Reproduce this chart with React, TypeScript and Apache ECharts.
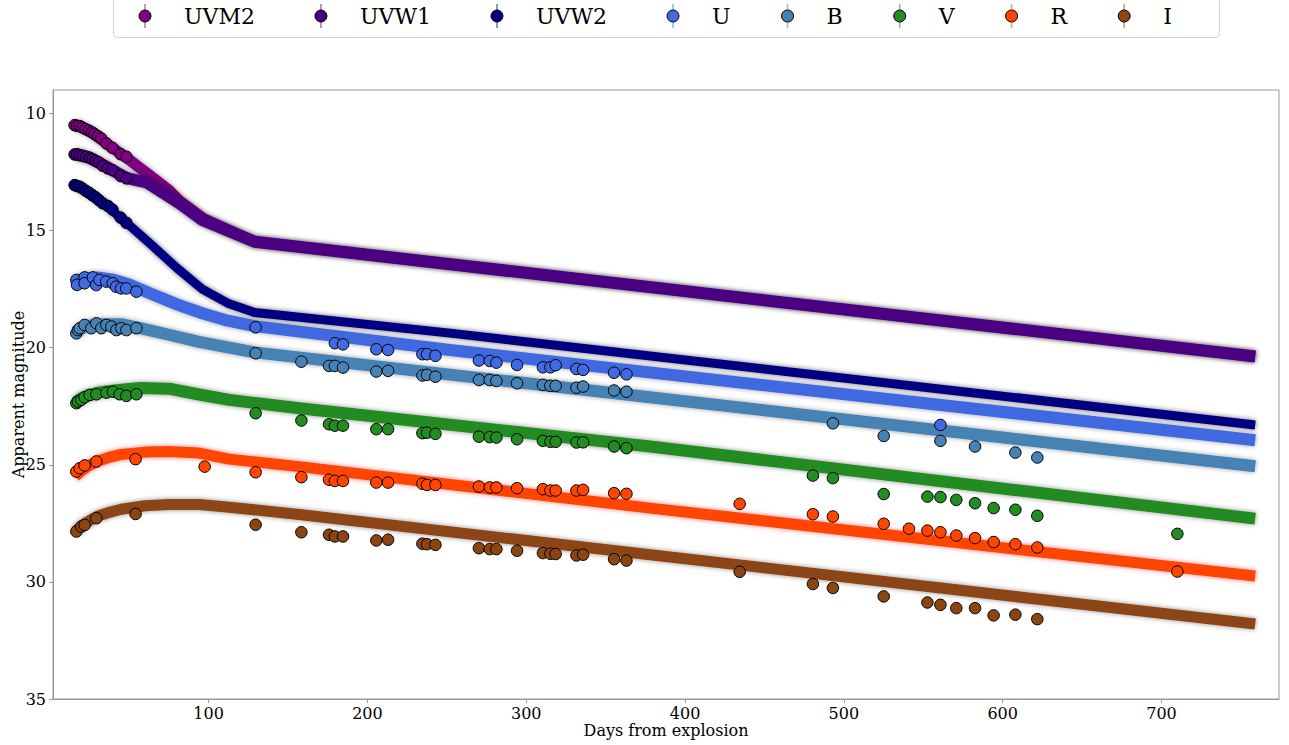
import React, { useEffect, useRef } from "react";
import * as echarts from "echarts";

// ---------- categories / ticks ----------
const bandNames = ["UVM2", "UVW1", "UVW2", "U", "B", "V", "R", "I"];
const bandColors = ["#800080", "#4b0082", "#000080", "#4169e1", "#4682b4", "#228b22", "#ff4500", "#8b4513"];
const uvBands = ["UVM2", "UVW1", "UVW2"];
const opticalBands = ["U", "B", "V", "R", "I"];
const xTicks = [100, 200, 300, 400, 500, 600, 700];
const yTicks = [10, 15, 20, 25, 30, 35];

// ---------- observed photometry (days from explosion, apparent magnitude) ----------
const uvm2Days = [15.6, 17.1, 18.8, 20.5, 22.5, 24.7, 26.6, 28.2, 30.3, 32.4, 35.6, 39.4, 44.6, 48.2];
const uvm2Mag = [10.5, 10.53, 10.54, 10.6, 10.67, 10.74, 10.81, 10.88, 10.97, 11.07, 11.28, 11.47, 11.74, 11.85];

const uvw1Days = [15.6, 17.1, 18.8, 20.9, 23.0, 25.1, 26.8, 28.8, 30.9, 33.4, 36.6, 39.4, 44.6, 48.2];
const uvw1Mag = [11.75, 11.75, 11.78, 11.81, 11.85, 11.89, 11.95, 12.02, 12.09, 12.24, 12.35, 12.42, 12.67, 12.77];

const uvw2Days = [15.6, 17.1, 18.8, 20.5, 22.5, 24.7, 26.8, 28.8, 30.9, 33.4, 36.6, 39.4, 44.6, 48.2];
const uvw2Mag = [13.06, 13.1, 13.13, 13.2, 13.3, 13.39, 13.49, 13.58, 13.7, 13.84, 13.95, 14.1, 14.45, 14.67];

const uDays = [16.7, 17.1, 21.9, 21.9, 27.1, 29.2, 31.2, 35.5, 39.6, 41.7, 44.9, 48.1, 54.5,
  129.6, 179.5, 184.6, 205.6, 213.0, 234.6, 237.5, 242.8, 270.2, 277.0, 281.2, 294.2, 310.5, 315.2, 318.5, 331.6, 335.8, 355.3, 363.1, 560.8];
const uMag = [17.11, 17.32, 17.0, 17.25, 17.0, 17.33, 17.11, 17.18, 17.25, 17.4, 17.47, 17.47, 17.61,
  19.13, 19.81, 19.86, 20.07, 20.1, 20.28, 20.28, 20.35, 20.55, 20.57, 20.64, 20.74, 20.84, 20.84, 20.75, 20.91, 20.95, 21.07, 21.14, 23.3];

const bDays = [16.7, 17.7, 18.8, 21.9, 26.1, 29.3, 32.4, 35.6, 38.7, 41.9, 45.0, 48.2, 54.5,
  129.6, 158.4, 175.8, 179.5, 184.6, 205.6, 213.0, 234.6, 237.5, 242.8, 270.2, 277.0, 281.2, 294.2, 310.5, 315.2, 318.5, 331.6, 335.8, 355.3, 363.1,
  493.1, 525.1, 560.8, 582.6, 608.0, 621.8];
const bMag = [19.39, 19.25, 19.17, 19.03, 19.17, 18.96, 19.17, 19.03, 19.1, 19.25, 19.17, 19.25, 19.17,
  20.24, 20.6, 20.78, 20.78, 20.85, 21.02, 20.99, 21.19, 21.16, 21.24, 21.38, 21.38, 21.42, 21.52, 21.59, 21.63, 21.63, 21.71, 21.66, 21.83, 21.88,
  23.23, 23.77, 23.98, 24.22, 24.48, 24.69];

const vDays = [16.7, 17.7, 19.8, 21.9, 25.1, 29.3, 35.6, 39.7, 43.9, 48.2, 54.5,
  129.6, 158.4, 175.8, 179.5, 184.6, 205.6, 213.0, 234.6, 237.5, 242.8, 270.2, 277.0, 281.2, 294.2, 310.5, 315.2, 318.5, 331.6, 335.8, 355.3, 363.1,
  480.5, 493.1, 525.1, 552.6, 560.8, 570.8, 582.6, 594.3, 608.0, 621.8, 710.0];
const vMag = [22.37, 22.3, 22.23, 22.12, 22.02, 21.99, 21.92, 21.88, 21.99, 22.06, 21.99,
  22.8, 23.11, 23.27, 23.33, 23.33, 23.48, 23.48, 23.65, 23.63, 23.68, 23.8, 23.82, 23.84, 23.91, 23.98, 24.02, 24.02, 24.05, 24.04, 24.22, 24.29,
  25.46, 25.57, 26.25, 26.36, 26.38, 26.5, 26.64, 26.85, 26.92, 27.18, 27.95];

const rDays = [16.7, 18.8, 21.9, 29.3, 54.0, 97.5,
  129.6, 158.4, 175.8, 179.5, 184.6, 205.6, 213.0, 234.6, 237.5, 242.8, 270.2, 277.0, 281.2, 294.2, 310.5, 315.2, 318.5, 331.6, 335.8, 355.3, 363.1,
  434.4, 480.5, 493.1, 525.1, 541.0, 552.6, 560.8, 570.8, 582.6, 594.3, 608.0, 621.8, 710.0];
const rMag = [25.29, 25.15, 25.03, 24.86, 24.76, 25.08,
  25.32, 25.53, 25.64, 25.69, 25.69, 25.76, 25.76, 25.81, 25.86, 25.86, 25.93, 25.97, 25.97, 26.0, 26.04, 26.1, 26.1, 26.1, 26.07, 26.21, 26.24,
  26.67, 27.11, 27.21, 27.52, 27.73, 27.81, 27.88, 28.02, 28.13, 28.3, 28.39, 28.53, 29.56];

const iDays = [16.7, 19.8, 21.9, 29.3, 54.0,
  129.6, 158.4, 175.8, 179.5, 184.6, 205.6, 213.0, 234.6, 237.5, 242.8, 270.2, 277.0, 281.2, 294.2, 310.5, 315.2, 318.5, 331.6, 335.8, 355.3, 363.1,
  434.4, 480.5, 493.1, 525.1, 552.6, 560.8, 570.8, 582.6, 594.3, 608.0, 621.8];
const iMag = [27.85, 27.64, 27.57, 27.28, 27.1,
  27.56, 27.88, 27.99, 28.06, 28.06, 28.23, 28.2, 28.37, 28.39, 28.42, 28.56, 28.6, 28.6, 28.67, 28.77, 28.8, 28.81, 28.87, 28.84, 29.03, 29.09,
  29.57, 30.09, 30.26, 30.62, 30.88, 30.98, 31.12, 31.12, 31.43, 31.4, 31.59];

// ---------- model light curves ----------
const uvm2ModelDays = [16, 25, 35, 48, 63, 75, 82, 97, 129, 759];
const uvm2ModelMag = [10.48, 10.74, 11.25, 11.88, 12.65, 13.27, 13.75, 14.5, 15.48, 20.38];
const uvw1ModelDays = [16, 25, 35, 48, 61, 82, 96, 129, 759];
const uvw1ModelMag = [11.72, 11.9, 12.25, 12.75, 12.95, 13.85, 14.55, 15.48, 20.38];
const uvw2ModelDays = [16, 25, 35, 48, 63, 80, 96, 112, 129, 252, 759];
const uvw2ModelMag = [13.05, 13.4, 13.9, 14.65, 15.55, 16.6, 17.5, 18.1, 18.5, 19.38, 23.3];
const uModelDays = [16, 22, 30, 40, 50, 63, 80, 96, 112, 129, 252, 759];
const uModelMag = [17.2, 17.05, 17.0, 17.1, 17.3, 17.68, 18.15, 18.53, 18.85, 19.08, 20.1, 23.95];
const bModelDays = [16, 22, 30, 45, 57, 75, 94, 113, 129, 252, 759];
const bModelMag = [19.35, 19.1, 19.0, 19.0, 19.17, 19.45, 19.75, 20.0, 20.2, 21.15, 25.06];
const vModelDays = [16, 20, 25, 32, 45, 57, 75, 94, 113, 157, 378, 759];
const vModelMag = [22.35, 22.15, 22.02, 21.9, 21.8, 21.72, 21.75, 22.0, 22.23, 22.59, 24.22, 27.3];
const rModelDays = [16, 20, 25, 30, 38, 45, 60, 75, 94, 113, 157, 378, 759];
const rModelMag = [25.5, 25.25, 25.02, 24.85, 24.67, 24.56, 24.46, 24.43, 24.5, 24.76, 25.08, 26.85, 29.75];
const iModelDays = [16, 20, 25, 30, 38, 45, 60, 75, 94, 113, 157, 378, 759];
const iModelMag = [27.85, 27.6, 27.38, 27.2, 27.02, 26.9, 26.75, 26.7, 26.7, 26.81, 27.12, 28.84, 31.8];

const obsDays = [uvm2Days, uvw1Days, uvw2Days, uDays, bDays, vDays, rDays, iDays];
const obsMag = [uvm2Mag, uvw1Mag, uvw2Mag, uMag, bMag, vMag, rMag, iMag];
const modDays = [uvm2ModelDays, uvw1ModelDays, uvw2ModelDays, uModelDays, bModelDays, vModelDays, rModelDays, iModelDays];
const modMag = [uvm2ModelMag, uvw1ModelMag, uvw2ModelMag, uModelMag, bModelMag, vModelMag, rModelMag, iModelMag];

// band widths / glow (styles)
const bandWidths = [11, 12, 9, 12, 12, 12, 11, 11];
const bandGlow = ["rgba(0,0,0,0.45)", "rgba(0,0,0,0.5)", "rgba(0,0,0,0.6)", "rgba(0,0,0,0.4)", "rgba(0,0,0,0.4)", "rgba(0,0,0,0.45)", "rgba(255,70,70,0.75)", "rgba(0,0,0,0.45)"];

const FONT = "'DejaVu Serif', 'Liberation Serif', serif";

function legendIcon(c: string) {
  const svg = `<svg xmlns="http://www.w3.org/2000/svg" width="56" height="24" viewBox="0 0 56 24"><line x1="22" y1="0" x2="22" y2="24" stroke="${c}" stroke-opacity="0.55" stroke-width="1.5"/><circle cx="22" cy="12" r="6" fill="${c}" stroke="#000" stroke-width="1"/></svg>`;
  return "image://data:image/svg+xml;charset=utf-8," + encodeURIComponent(svg);
}

export default function App() {
  const ref = useRef<HTMLDivElement>(null);
  useEffect(() => {
    if (!ref.current) return;
    const chart = echarts.init(ref.current, null, { renderer: "svg" });

    const lineSeries = bandNames.map((n, i) => ({
      name: n + " model",
      type: "line",
      data: modDays[i].map((d, k) => [d, modMag[i][k]]),
      showSymbol: false,
      symbol: "none",
      smooth: false,
      silent: true,
      z: 2,
      lineStyle: {
        color: bandColors[i],
        width: bandWidths[i],
        cap: "butt",
        join: "round",
        shadowBlur: 5,
        shadowColor: bandGlow[i],
      },
    }));

    const scatterSeries = bandNames.map((n, i) => ({
      name: n,
      type: "scatter",
      data: obsDays[i].map((d, k) => [d, obsMag[i][k]]),
      symbol: "circle",
      symbolSize: 11.5,
      z: 5,
      itemStyle: { color: bandColors[i], borderColor: "#000", borderWidth: 1, opacity: 1 },
    }));

    const legendBase = {
      top: -3,
      padding: [7, 0, 7, 0],
      itemWidth: 56,
      itemHeight: 24,
      selectedMode: false,
      z: 10,
      textStyle: { fontFamily: FONT, fontSize: 22, color: "#000" },
    };
    const iconFor = (n: string) => legendIcon(bandColors[bandNames.indexOf(n)]);

    chart.setOption({
      animation: false,
      backgroundColor: "#fff",
      grid: {
        left: 53, right: 10, top: 90, bottom: 46,
        outerBoundsMode: "none",
        containLabel: false,
        show: true, borderColor: "#999", borderWidth: 1, backgroundColor: "transparent",
      },
      graphic: [
        {
          type: "rect",
          left: 113,
          top: -3,
          z: 1,
          shape: { width: 1106, height: 40, r: 4 },
          style: { fill: "#fff", stroke: "#d4d4d4", lineWidth: 1 },
          silent: true,
        },
      ],
      legend: [
        {
          ...legendBase,
          left: 123,
          itemGap: 44,
          data: uvBands.map((n) => ({ name: n, icon: iconFor(n) })),
        },
        {
          ...legendBase,
          left: 651,
          itemGap: 35,
          data: opticalBands.map((n) => ({ name: n, icon: iconFor(n) })),
        },
      ],
      xAxis: {
        type: "value",
        min: 2,
        max: 774,
        name: "Days from explosion",
        nameLocation: "middle",
        nameGap: 23,
        nameMoveOverlap: false,
        nameTextStyle: { fontFamily: FONT, fontSize: 16, color: "#000" },
        axisLine: { show: true, lineStyle: { color: "#999" } },
        axisTick: { show: true, length: 4, lineStyle: { color: "#999" }, customValues: xTicks },
        axisLabel: { fontFamily: FONT, fontSize: 16, color: "#000", margin: 6, customValues: xTicks },
        splitLine: { show: false },
      },
      yAxis: {
        type: "value",
        inverse: true,
        min: 9,
        max: 35,
        name: "Apparent magnitude",
        nameLocation: "middle",
        nameGap: 27,
        nameMoveOverlap: false,
        nameTextStyle: { fontFamily: FONT, fontSize: 16, color: "#000" },
        axisLine: { show: true, lineStyle: { color: "#999" } },
        axisTick: { show: true, length: 4, lineStyle: { color: "#999" }, customValues: yTicks },
        axisLabel: { fontFamily: FONT, fontSize: 16, color: "#000", margin: 7, customValues: yTicks },
        splitLine: { show: false },
      },
      series: [...lineSeries, ...scatterSeries],
    });
    return () => chart.dispose();
  }, []);
  return <div ref={ref} style={{ position: "fixed", left: 0, top: 0, width: "1289px", height: "745px" }} />;
}
